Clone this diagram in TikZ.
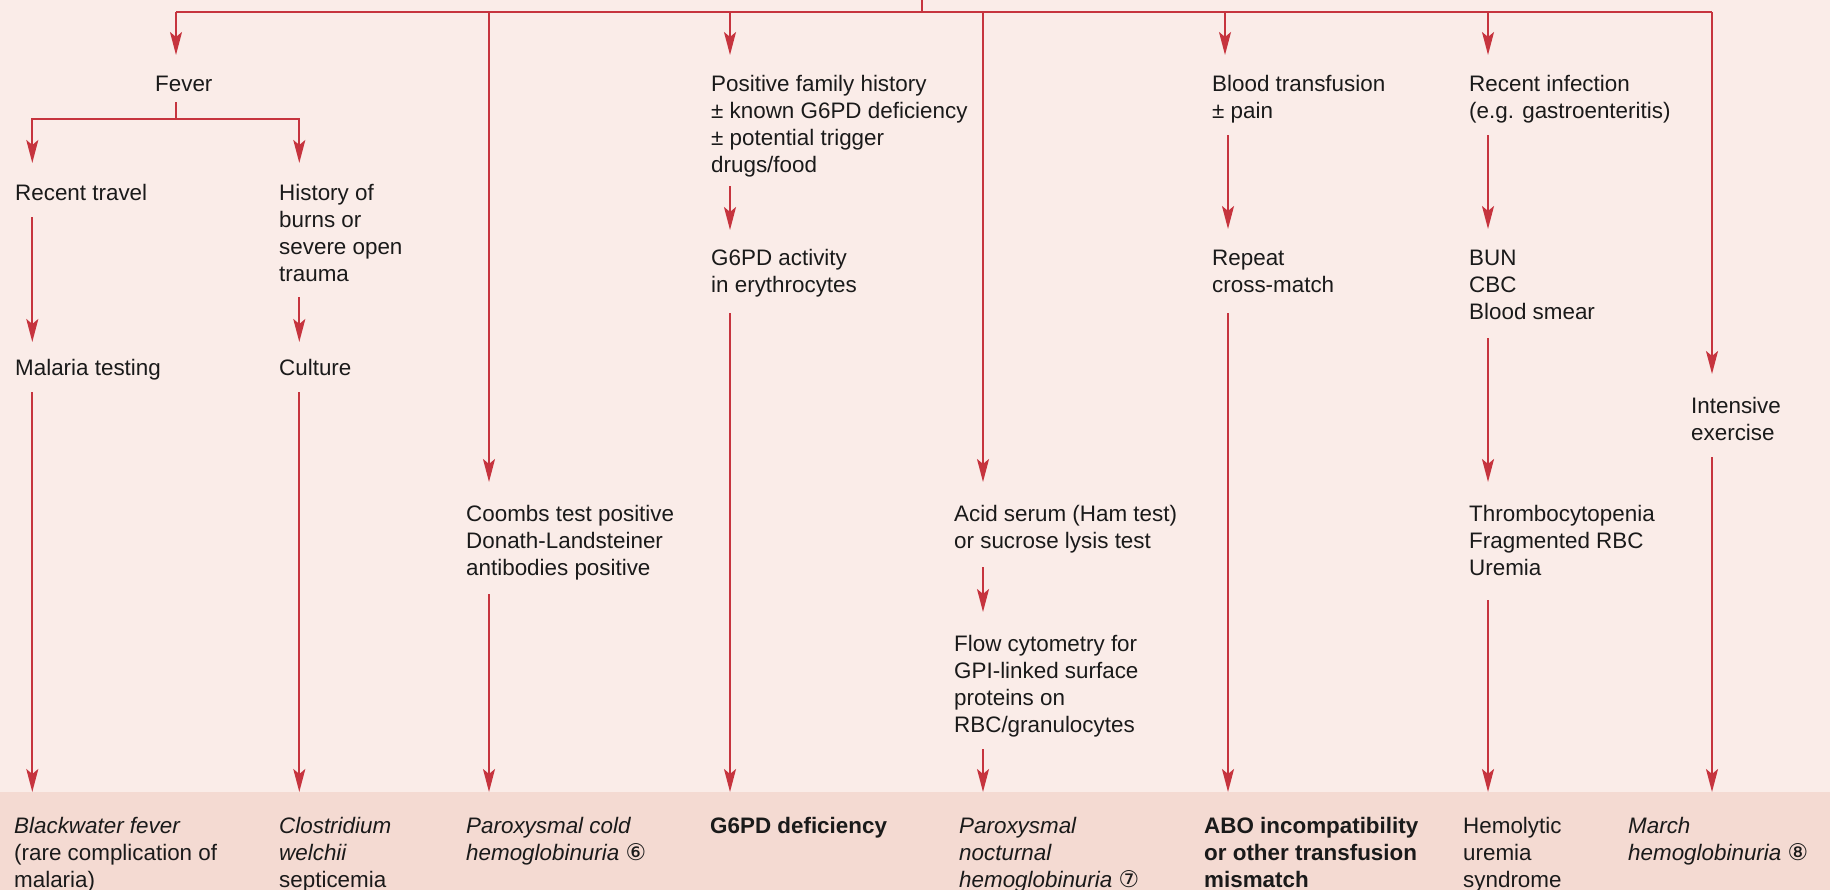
\documentclass[tikz,border=0pt]{standalone}
\usepackage{fontspec}
\setmainfont{Liberation Sans}
\newfontfamily\circfont{DejaVu Sans}
\usetikzlibrary{arrows.meta}
\definecolor{paper}{HTML}{FAECE8}
\definecolor{bandc}{HTML}{F4DAD2}
\definecolor{flow}{HTML}{C6343E}
\definecolor{ink}{HTML}{1A1A1A}
% line strut: 19.5pt above the baseline, 4pt below
\newcommand\lstrut{\rule[-4pt]{0pt}{23.5pt}}
\newcommand\circnum[1]{{\circfont\fontsize{23}{27}\selectfont #1}}

\begin{document}
\begin{tikzpicture}[x=1pt,y=-1pt,
  lbl/.style={anchor=north west, inner sep=0pt, align=left, text=ink,
    font=\fontsize{22.4}{27.2}\selectfont},
  wire/.style={draw=flow, line width=2pt},
  arr/.style={wire, -{Stealth[length=23pt,width=12pt,inset=5pt]}, shorten >=#1},
  arr/.default=0pt,
  gapS/.style={shorten <=#1},
]
\useasboundingbox (0,0) rectangle (1830,890);
\fill[paper] (0,0) rectangle (1830,890);
\node[fill=bandc, inner sep=0pt, minimum width=1830pt, minimum height=98pt,
  anchor=north west] (band) at (0,792) {};

% column positions of the connectors
\coordinate (cA) at (32.3,0);
\coordinate (cB) at (299.3,0);
\coordinate (cFev) at (176,0);
\coordinate (cC) at (489,0);
\coordinate (cD) at (730,0);
\coordinate (cE) at (983,0);
\coordinate (cF) at (1225,0);
\coordinate (cFb) at (1228,0);
\coordinate (cG) at (1488,0);
\coordinate (cH) at (1712,0);
\coordinate (root) at (922,0);
\coordinate (bus) at (922,12.5);
\coordinate (split) at (176,119);

% first level
\node[lbl] (fever) at (155,71.5) {\lstrut Fever\lstrut};
\node[lbl] (fam) at (711,71.5) {\lstrut Positive family history\\± known G6PD deficiency\\± potential trigger\\drugs/food\lstrut};
\node[lbl] (trans) at (1212,71.5) {\lstrut Blood transfusion\\± pain\lstrut};
\node[lbl] (infect) at (1469,71.5) {\lstrut Recent infection\\(e.g. gastroenteritis)\lstrut};

% further steps
\node[lbl] (travel) at (15,180.5) {\lstrut Recent travel\lstrut};
\node[lbl] (burns) at (279,180.5) {\lstrut History of\\burns or\\severe open\\trauma\lstrut};
\node[lbl] (g6act) at (711,245.5) {\lstrut G6PD activity\\in erythrocytes\lstrut};
\node[lbl] (xmatch) at (1212,245.5) {\lstrut Repeat\\cross-match\lstrut};
\node[lbl] (bun) at (1469,245.5) {\lstrut BUN\\CBC\\Blood smear\lstrut};
\node[lbl] (malaria) at (15,355.5) {\lstrut Malaria testing\lstrut};
\node[lbl] (culture) at (279,355.5) {\lstrut Culture\lstrut};
\node[lbl] (exercise) at (1691,393.5) {\lstrut Intensive\\exercise\lstrut};
\node[lbl] (coombs) at (466,501.5) {\lstrut Coombs test positive\\Donath-Landsteiner\\antibodies positive\lstrut};
\node[lbl] (acid) at (954,501.5) {\lstrut Acid serum (Ham test)\\or sucrose lysis test\lstrut};
\node[lbl] (thrombo) at (1469,501.5) {\lstrut Thrombocytopenia\\Fragmented RBC\\Uremia\lstrut};
\node[lbl] (flowcyt) at (954,631.5) {\lstrut Flow cytometry for\\GPI-linked surface\\proteins on\\RBC/granulocytes\lstrut};

% diagnoses
\node[lbl] (out1) at (14,813.5) {\lstrut\textit{Blackwater fever}\\(rare complication of\\malaria)\lstrut};
\node[lbl] (out2) at (279,813.5) {\lstrut\textit{Clostridium}\\\textit{welchii}\\septicemia\lstrut};
\node[lbl] (out3) at (466,813.5) {\lstrut\textit{Paroxysmal cold}\\\textit{hemoglobinuria}~\circnum{⑥}\lstrut};
\node[lbl] (out4) at (710,813.5) {\lstrut\textbf{G6PD deficiency}\lstrut};
\node[lbl] (out5) at (959,813.5) {\lstrut\textit{Paroxysmal}\\\textit{nocturnal}\\\textit{hemoglobinuria}~\circnum{⑦}\lstrut};
\node[lbl] (out6) at (1204,813.5) {\lstrut\textbf{ABO incompatibility}\\\textbf{or other transfusion}\\\textbf{mismatch}\lstrut};
\node[lbl] (out7) at (1463,813.5) {\lstrut Hemolytic\\uremia\\syndrome\lstrut};
\node[lbl] (out8) at (1628,813.5) {\lstrut\textit{March}\\\textit{hemoglobinuria}~\circnum{⑧}\lstrut};

% distribution bus
\draw[wire] (root) -- (bus);
\draw[wire] (bus -| cFev) -- (bus -| cH);

% branches from the bus
\draw[arr=16.5pt] (bus -| cFev) -- (fever.north -| cFev);
\draw[arr=16.5pt] (bus -| cD) -- (fam.north -| cD);
\draw[arr=16.5pt] (bus -| cF) -- (trans.north -| cF);
\draw[arr=16.5pt] (bus -| cG) -- (infect.north -| cG);
\draw[arr=19.5pt] (bus -| cC) -- (coombs.north -| cC);
\draw[arr=19.5pt] (bus -| cE) -- (acid.north -| cE);
\draw[arr=19.5pt] (bus -| cH) -- (exercise.north -| cH);

% fever branch
\draw[wire, gapS=7pt] (fever.south -| cFev) -- (split);
\draw[arr=17.5pt] (split) -| (travel.north -| cA);
\draw[arr=17.5pt] (split) -| (burns.north -| cB);
\draw[arr=13.5pt, gapS=13pt] (travel.south -| cA) -- (malaria.north -| cA);
\draw[arr=13.5pt, gapS=11.4pt] (burns.south -| cB) -- (culture.north -| cB);
\draw[arr, gapS=12.3pt] (malaria.south -| cA) -- (band.north -| cA);
\draw[arr, gapS=13pt] (culture.south -| cB) -- (band.north -| cB);

% hemolysis tests
\draw[arr, gapS=13.9pt] (coombs.south -| cC) -- (band.north -| cC);
\draw[arr=15.5pt, gapS=8.7pt] (fam.south -| cD) -- (g6act.north -| cD);
\draw[arr, gapS=16pt] (g6act.south -| cD) -- (band.north -| cD);
\draw[arr=19.5pt, gapS=14.1pt] (acid.south -| cE) -- (flowcyt.north -| cE);
\draw[arr, gapS=11.7pt] (flowcyt.south -| cE) -- (band.north -| cE);
\draw[arr=16.5pt, gapS=12.1pt] (trans.south -| cFb) -- (xmatch.north -| cFb);
\draw[arr, gapS=16.8pt] (xmatch.south -| cFb) -- (band.north -| cFb);
\draw[arr=16.5pt, gapS=12.1pt] (infect.south -| cG) -- (bun.north -| cG);
\draw[arr=19.5pt, gapS=14.6pt] (bun.south -| cG) -- (thrombo.north -| cG);
\draw[arr, gapS=20.6pt] (thrombo.south -| cG) -- (band.north -| cG);
\draw[arr, gapS=12.8pt] (exercise.south -| cH) -- (band.north -| cH);
\end{tikzpicture}
\end{document}
